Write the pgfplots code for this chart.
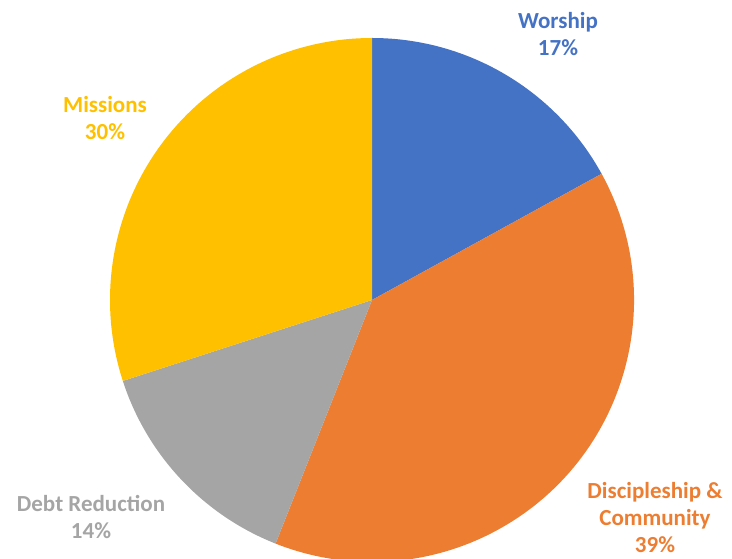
\documentclass[border=0pt]{standalone}
\usepackage{pgfplots}
\pgfplotsset{compat=1.18}
\usepackage{fontspec}
\setmainfont{Carlito}
\definecolor{cWor}{HTML}{4472C4}
\definecolor{cDis}{HTML}{ED7D31}
\definecolor{cDebt}{HTML}{A5A5A5}
\definecolor{cMis}{HTML}{FFC000}
\begin{document}
\begin{tikzpicture}
\useasboundingbox (0,0) rectangle (732pt,559pt);
\clip (0,0) rectangle (732pt,559pt);
\begin{axis}[
  scale only axis, width=732pt, height=559pt,
  xmin=0, xmax=732, ymin=0, ymax=559,
  hide axis, clip=true,
]
% shares (percent): Worship 17, Discipleship & Community 39, Debt Reduction 14, Missions 30
\fill[cWor]  (axis cs:372,259) -- ++(90:262pt) arc[start angle=90, end angle={90-3.6*17}, radius=262pt] -- cycle;
\fill[cDis]  (axis cs:372,259) -- ++({90-3.6*17}:262pt) arc[start angle={90-3.6*17}, end angle={90-3.6*56}, radius=262pt] -- cycle;
\fill[cDebt] (axis cs:372,259) -- ++({90-3.6*56}:262pt) arc[start angle={90-3.6*56}, end angle={90-3.6*70}, radius=262pt] -- cycle;
\fill[cMis]  (axis cs:372,259) -- ++({90-3.6*70}:262pt) arc[start angle={90-3.6*70}, end angle={90-3.6*100}, radius=262pt] -- cycle;
\end{axis}
\begin{scope}[every node/.style={font=\fontsize{23}{27}\selectfont\bfseries, align=center, inner sep=0pt}]
\node[text=cWor] at (558pt,{559pt-34pt}) {Worship\\17\%};
\node[text=cMis] at (105pt,{559pt-118pt}) {Missions\\30\%};
\node[text=cDebt] at (91pt,{559pt-517pt}) {Debt Reduction\\14\%};
\node[text=cDis] at (655pt,{559pt-518pt}) {Discipleship \&\\Community\\39\%};
\end{scope}
\end{tikzpicture}
\end{document}
